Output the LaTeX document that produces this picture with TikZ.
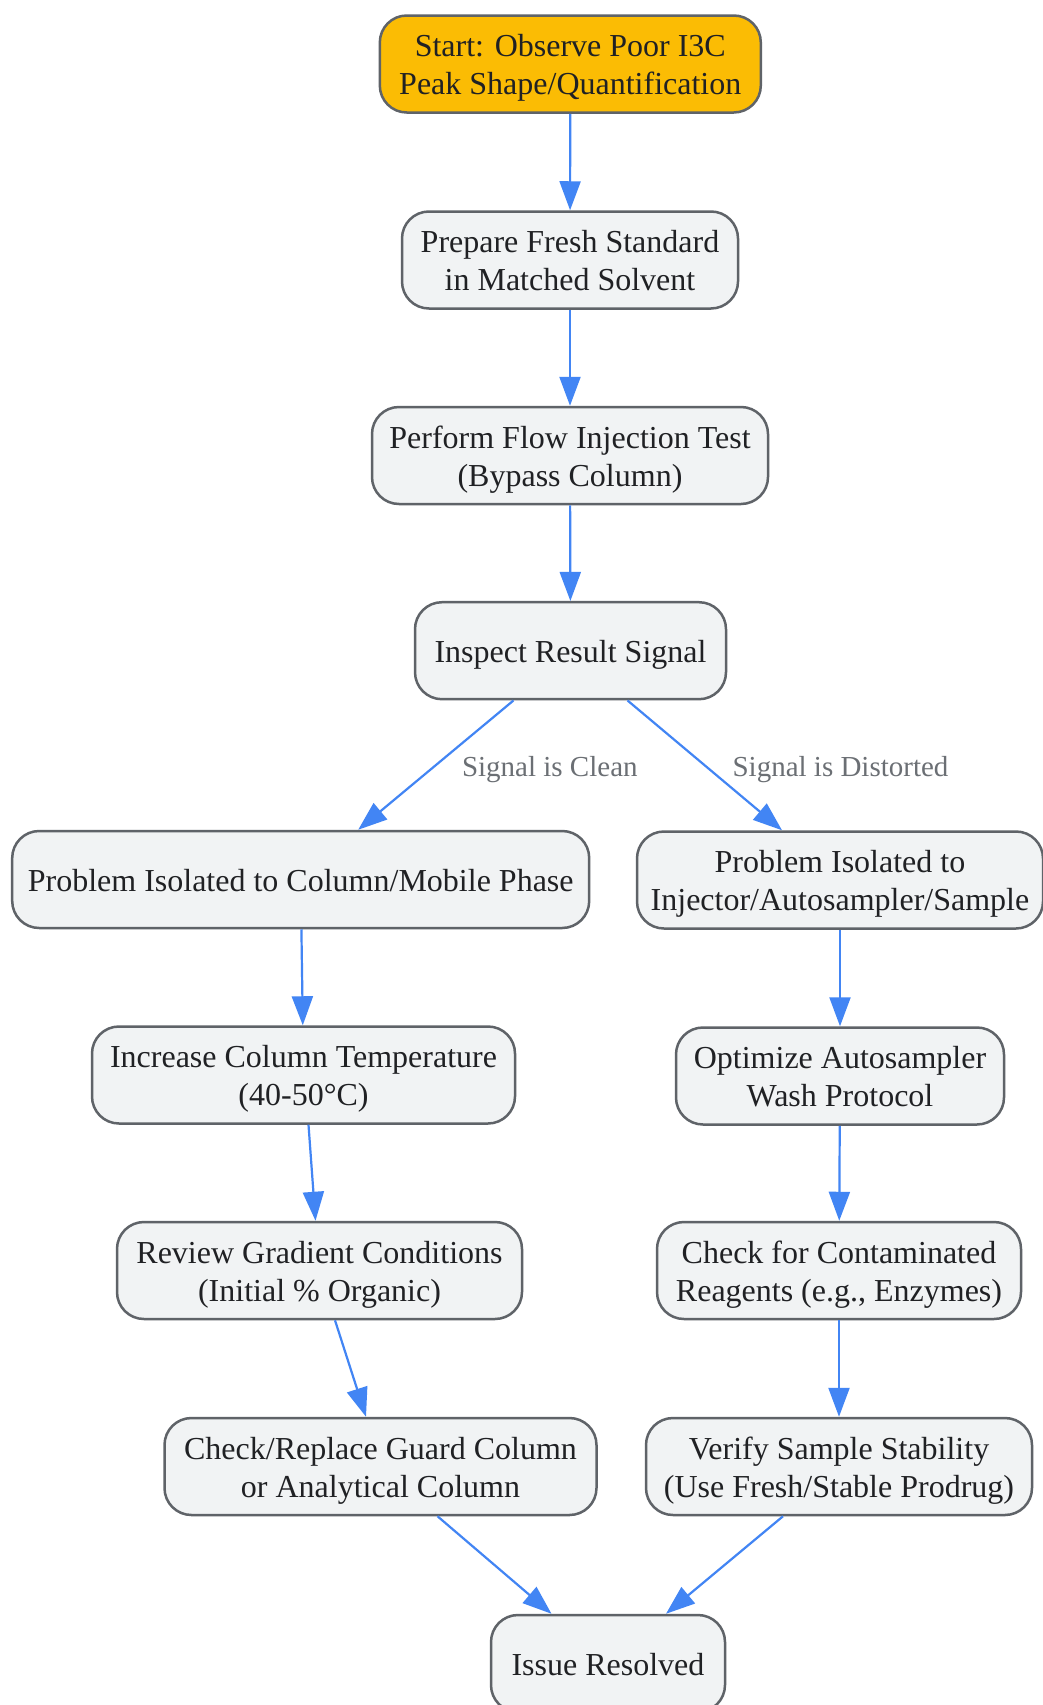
\documentclass[tikz,border=0pt]{standalone}
\usepackage{fontspec}
\setmainfont{Liberation Serif}
\usetikzlibrary{arrows.meta,calc}
\definecolor{boxfill}{HTML}{F1F3F4}
\definecolor{boxline}{HTML}{5F6368}
\definecolor{startfill}{HTML}{FBBC04}
\definecolor{edgeblue}{HTML}{4285F4}
\definecolor{txt}{HTML}{202124}
\definecolor{lblgray}{HTML}{6B6F74}
\begin{document}
\begin{tikzpicture}[x=1pt,y=-1pt,
  base/.style={draw=boxline, line width=2.5pt, fill=boxfill, rounded corners=27pt,
    minimum height=97pt, inner sep=0pt, text=txt,
    font=\fontsize{32}{38}\selectfont, align=center},
  one/.style={base, text height=31pt, text depth=7pt},
  two/.style={base, text height=68pt, text depth=7pt},
  conn/.style={draw=edgeblue, line width=2.2pt, -{Triangle[length=29pt,width=21pt]}},
  lbl/.style={text=lblgray, font=\fontsize{29}{34}\selectfont, inner sep=0pt, anchor=base}]
\useasboundingbox (0,0) rectangle (1043,1705);
\fill[white] (0,0) rectangle (1043,1705);

\node[two, fill=startfill, minimum width=381pt] (S) at (570.3,64) {Start: Observe Poor I3C\\Peak Shape/Quantification};
\node[two, minimum width=336pt] (P) at (570,260) {Prepare Fresh Standard\\in Matched Solvent};
\node[two, minimum width=396pt] (F) at (570,455.5) {Perform Flow Injection Test\\(Bypass Column)};
\node[one, minimum width=311pt] (I) at (570.5,650.7) {Inspect Result Signal};
\node[one, minimum width=577pt] (L1) at (300.7,879.5) {Problem Isolated to Column/Mobile Phase};
\node[two, minimum width=406pt] (R1) at (840,880) {Problem Isolated to\\Injector/Autosampler/Sample};
\node[two, minimum width=423pt] (L2) at (303.5,1075) {Increase Column Temperature\\(40-50°C)};
\node[two, minimum width=328pt] (R2) at (840,1076) {Optimize Autosampler\\Wash Protocol};
\node[two, minimum width=405pt] (L3) at (319.5,1270.5) {Review Gradient Conditions\\(Initial \% Organic)};
\node[two, minimum width=364pt] (R3) at (839,1270.5) {Check for Contaminated\\Reagents (e.g., Enzymes)};
\node[two, minimum width=432pt] (L4) at (380.5,1466.5) {Check/Replace Guard Column\\or Analytical Column};
\node[two, minimum width=386pt] (R4) at (839,1466.5) {Verify Sample Stability\\(Use Fresh/Stable Prodrug)};
\node[one, minimum width=234pt] (E) at (608,1663.5) {Issue Resolved};

\node[lbl] (lc) at (549.8,776) {Signal is Clean};
\node[lbl] (ld) at (840.5,776) {Signal is Distorted};

\draw[conn] (S) -- (P);
\draw[conn] (P) -- (F);
\draw[conn] (F) -- (I);
\draw[conn] ($(I.south)+(-57,0)$) -- ($(L1.north)+(57.5,0)$);
\draw[conn] ($(I.south)+(57,0)$) -- ($(R1.north)+(-58,0)$);
\draw[conn] (L1) -- (L2);
\draw[conn] ($(L2.south)+(5,0)$) -- ($(L3.north)+(-4,0)$);
\draw[conn] ($(L3.south)+(15.5,0)$) -- ($(L4.north)+(-14.5,0)$);
\draw[conn] (R1) -- (R2);
\draw[conn] (R2) -- (R3);
\draw[conn] (R3) -- (R4);
\draw[conn] ($(L4.south)+(57,0)$) -- ($(E.north)+(-56.5,0)$);
\draw[conn] ($(R4.south)+(-56,0)$) -- ($(E.north)+(58,0)$);
\end{tikzpicture}
\end{document}
